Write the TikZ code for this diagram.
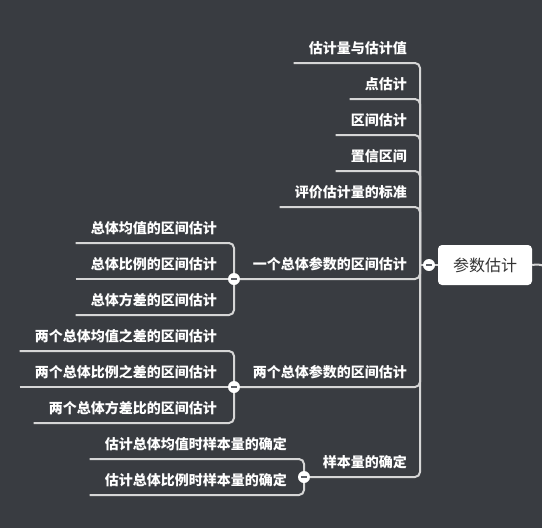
\documentclass[tikz,border=0pt]{standalone}
\usepackage{fontspec}
\setmainfont{Noto Sans CJK SC}
\definecolor{canvas}{HTML}{393C41}
\definecolor{branch}{HTML}{D6D6D6}
\definecolor{rootink}{HTML}{333333}
\definecolor{knob}{HTML}{5C5F66}
\pgfdeclarelayer{back}
\pgfdeclarelayer{lines}
\pgfsetlayers{back,lines,main}
\tikzset{topic/.style={anchor=south east,text=white,font=\fontsize{14pt}{16pt}\selectfont\bfseries,inner xsep=15pt,inner ysep=9.5pt,text height=10pt,text depth=0pt},link/.style={draw=branch,line width=2pt,rounded corners=5pt},fold/.style={circle,fill=white,inner sep=0pt,minimum size=12pt},centre/.style={rounded corners=4pt,fill=white,text=rootink,minimum width=94pt,minimum height=40pt,font=\fontsize{16pt}{18pt}\selectfont}}

\begin{document}
\begin{tikzpicture}[x=1pt,y=-1pt]
\begin{pgfonlayer}{back}
\fill[canvas] (0,0) rectangle (542,528);
\end{pgfonlayer}
\useasboundingbox (0,0) rectangle (542,528);
\coordinate (trunk) at (420,265);
\coordinate (exit) at (552,270);
\node[centre] (root) at (485,265) {参数估计};
\node[fold] (rc) at (429,265) {\color{knob}\rule{6pt}{2pt}};
\node[topic] (est) at (422,63) {估计量与估计值};
\node[topic] (point) at (422,99) {点估计};
\node[topic] (interval) at (422,135) {区间估计};
\node[topic] (conf) at (422,171) {置信区间};
\node[topic] (criteria) at (422,207) {评价估计量的标准};
\node[topic] (one) at (422,279) {一个总体参数的区间估计};
\node[topic] (two) at (422,387) {两个总体参数的区间估计};
\node[topic] (size) at (422,477) {样本量的确定};
\node[fold] (onefold) at (234,279) {\color{knob}\rule{6pt}{2pt}};
\node[fold] (twofold) at (234,387) {\color{knob}\rule{6pt}{2pt}};
\node[fold] (sizefold) at (304,477) {\color{knob}\rule{6pt}{2pt}};
\node[topic] (onemean) at (232,243) {总体均值的区间估计};
\node[topic] (oneprop) at (232,279) {总体比例的区间估计};
\node[topic] (onevar) at (232,315) {总体方差的区间估计};
\node[topic] (twomean) at (232,351) {两个总体均值之差的区间估计};
\node[topic] (twoprop) at (232,387) {两个总体比例之差的区间估计};
\node[topic] (twovar) at (232,423) {两个总体方差比的区间估计};
\node[topic] (sizemean) at (302,459) {估计总体均值时样本量的确定};
\node[topic] (sizeprop) at (302,495) {估计总体比例时样本量的确定};
\begin{pgfonlayer}{lines}
\draw[link] (root.east) .. controls (540,264) .. (exit);
\draw[link] (root) -- (rc) -- (trunk);
\draw[link] (est.south west) -| (trunk);
\draw[link] (point.south west) -| (trunk);
\draw[link] (interval.south west) -| (trunk);
\draw[link] (conf.south west) -| (trunk);
\draw[link] (criteria.south west) -| (trunk);
\draw[link] (onefold) -| (trunk);
\draw[link] (twofold) -| (trunk);
\draw[link] (sizefold) -| (trunk);
\draw[link] (onemean.south west) -| (onefold);
\draw[link] (oneprop.south west) -- (onefold);
\draw[link] (onevar.south west) -| (onefold);
\draw[link] (twomean.south west) -| (twofold);
\draw[link] (twoprop.south west) -- (twofold);
\draw[link] (twovar.south west) -| (twofold);
\draw[link] (sizemean.south west) -| (sizefold);
\draw[link] (sizeprop.south west) -| (sizefold);
\end{pgfonlayer}
\end{tikzpicture}
\end{document}
